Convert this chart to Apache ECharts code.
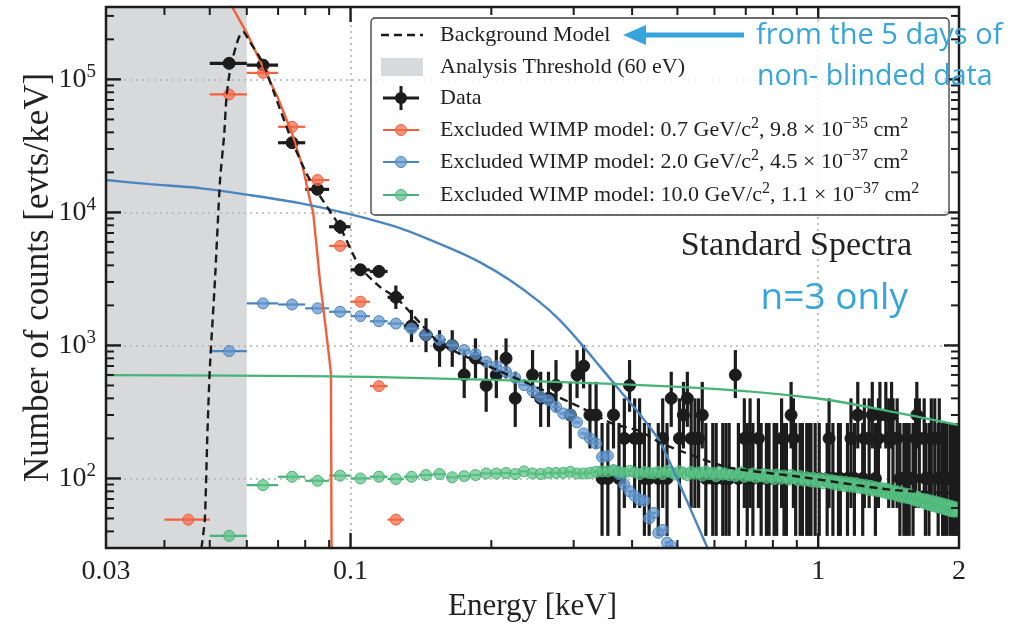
<!DOCTYPE html>
<html>
<head>
<meta charset="utf-8">
<script src="https://cdn.jsdelivr.net/npm/echarts@6.0.0/dist/echarts.min.js"></script>
<style>
html,body{margin:0;padding:0;background:#fff;}
#chart{width:1029px;height:627px;}
</style>
</head>
<body>
<div id="chart"></div>
<script>
// ---- binning (keV) ----
const binWidth = 0.01;
const thresholdKeV = [0.03, 0.06];

// ---- measured spectrum: bin centres (keV) and rates (evts/keV) ----
const dataE = [
  0.055, 0.065, 0.075, 0.085, 0.095, 0.105, 0.115, 0.125, 0.135, 0.145,
  0.155, 0.165, 0.175, 0.185, 0.195, 0.205, 0.215, 0.225, 0.245, 0.255,
  0.265, 0.275, 0.295, 0.305, 0.315, 0.325, 0.335, 0.345, 0.355, 0.365,
  0.375, 0.385, 0.395, 0.405, 0.415, 0.425, 0.435, 0.455, 0.465, 0.475,
  0.485, 0.505, 0.515, 0.525, 0.535, 0.545, 0.555, 0.565, 0.575, 0.595,
  0.605, 0.625, 0.635, 0.645, 0.665, 0.675, 0.695, 0.705, 0.715, 0.725,
  0.745, 0.755, 0.775, 0.785, 0.805, 0.815, 0.835, 0.845, 0.855, 0.875,
  0.885, 0.895, 0.915, 0.925, 0.945, 0.955, 0.965, 0.985, 1.005, 1.045,
  1.055, 1.075, 1.105, 1.115, 1.155, 1.175, 1.195, 1.215, 1.245, 1.255,
  1.285, 1.305, 1.325, 1.345, 1.355, 1.395, 1.415, 1.435, 1.445, 1.475,
  1.495, 1.525, 1.545, 1.565, 1.595, 1.615, 1.625, 1.645, 1.685, 1.695,
  1.725, 1.745, 1.775, 1.805, 1.815, 1.845, 1.865, 1.885, 1.915, 1.935,
  1.955, 1.975, 1.995
];
const dataRate = [
  132000, 128000, 33400, 14900, 7800, 3700, 3600, 2300, 1400, 1200,
  1000, 1000, 600, 800, 500, 600, 800, 400, 600, 400,
  400, 500, 300, 600, 700, 300, 300, 100, 100, 300,
  100, 200, 500, 200, 200, 100, 100, 100, 200, 100,
  400, 200, 300, 400, 200, 200, 200, 300, 100, 100,
  100, 100, 100, 100, 600, 100, 200, 100, 200, 100,
  200, 100, 100, 100, 100, 100, 200, 100, 100, 300,
  200, 100, 100, 100, 100, 100, 100, 100, 100, 100,
  200, 100, 100, 100, 100, 200, 100, 300, 100, 200,
  200, 300, 100, 200, 300, 300, 200, 300, 200, 200,
  100, 100, 100, 100, 100, 200, 300, 200, 200, 100,
  100, 200, 200, 100, 200, 100, 100, 100, 100, 100,
  100, 100, 100
];
// vertical error-bar extent [low, high] for each rate level
const dataErr = {
  132000: [126000, 138000], 128000: [122000, 134000], 33400: [31000, 36000],
  14900: [13500, 16400], 7800: [6900, 8800], 3700: [3350, 4100], 3600: [3250, 4000],
  2300: [1880, 2820], 1400: [1060, 1850], 1200: [890, 1600], 1000: [690, 1300],
  800: [565, 1130], 700: [475, 1010], 600: [402, 923], 500: [317, 776],
  400: [244, 634], 300: [168, 532], 200: [60, 400], 100: [37, 261]
};

// ---- excluded WIMP spectra, one value per 0.01 keV bin ----
const wimp07Start = 0.045;
const wimp07 = [49, 77000, 112000, 44000, 17500, 5600, 2130, 494, 49];

const wimp20Start = 0.055;
const wimp20 = [
  906, 2070, 2030, 1900, 1790, 1660, 1520, 1460, 1340, 1200,
  1100, 1000, 922, 861, 753, 698, 634, 571, 503, 456,
  411, 388, 345, 308, 300, 264, 218, 200, 183, 145,
  148, 115, 108, 90, 80, 74, 69, 68, 50, 55,
  39, 41, 33, 31
];

const wimp100Start = 0.055;
const wimp100 = [
  37, 89, 103, 96, 105, 100, 103, 99, 103, 106,
  108, 102, 104, 106, 109, 109, 110, 108, 113, 109,
  108, 110, 110, 110, 112, 109, 109, 110, 112, 113,
  113, 115, 112, 110, 114, 111, 108, 112, 110, 109,
  112, 108, 114, 111, 107, 113, 110, 106, 112, 109,
  111, 105, 113, 108, 110, 104, 112, 107, 109, 106,
  110, 104, 108, 111, 103, 107, 105, 109, 102, 106,
  104, 108, 101, 106, 103, 99, 107, 104, 100, 105,
  102, 98, 106, 101, 103, 97, 104, 100, 96, 102,
  99, 95, 101, 98, 94, 100, 97, 92, 99, 95,
  93, 97, 91, 96, 94, 89, 95, 92, 88, 94,
  91, 87, 93, 90, 86, 92, 89, 85, 90, 87,
  84, 89, 86, 82, 88, 85, 81, 86, 83, 80,
  85, 82, 79, 84, 80, 77, 83, 79, 76, 81,
  78, 75, 80, 76, 73, 78, 75, 72, 77, 74,
  71, 76, 72, 70, 74, 71, 68, 73, 69, 67,
  72, 68, 66, 70, 67, 64, 69, 66, 63, 68,
  65, 62, 67, 64, 61, 66, 63, 60, 65, 62,
  59, 64, 61, 58, 63, 60, 57, 62, 59, 56,
  61, 58, 55, 60, 57
];

// ---- continuous model curves [E keV, evts/keV] ----
const bkgModel = [
  [0.0480, 30], [0.0488, 49], [0.0494, 205], [0.0500, 652], [0.0513, 3100],
  [0.0526, 17500], [0.0537, 39000], [0.0543, 74000], [0.0554, 124000],
  [0.0571, 186000], [0.0580, 215000], [0.0589, 228000], [0.0609, 192000],
  [0.0650, 132000], [0.0695, 70000], [0.0748, 35000], [0.0805, 19600],
  [0.0846, 14500], [0.0949, 7800], [0.1046, 3900], [0.1155, 2760],
  [0.1254, 2270], [0.1359, 1690], [0.155, 1040], [0.177, 820], [0.1984, 690],
  [0.2222, 581], [0.2629, 448], [0.309, 345], [0.3636, 258], [0.415, 228],
  [0.46, 185], [0.636, 122], [0.912, 103], [1.44, 82], [2.0, 77]
];
const wimp07Curve = [
  [0.0540, 440000], [0.0557, 356000], [0.0600, 223000], [0.0650, 124000],
  [0.0700, 72000], [0.0749, 39500], [0.0790, 22000], [0.0819, 12400],
  [0.0832, 10000], [0.0860, 3100], [0.0894, 1000], [0.0908, 620], [0.0911, 25]
];
const wimp20Curve = [
  [0.03, 17500], [0.03725, 16300], [0.0476, 15230], [0.0609, 13490],
  [0.0779, 11750], [0.0996, 9710], [0.1275, 7620], [0.163, 5390],
  [0.1889, 4230], [0.2189, 3100], [0.2538, 2116], [0.2801, 1550],
  [0.309, 1059], [0.3409, 699], [0.3762, 461], [0.4152, 304],
  [0.458, 191], [0.5053, 90.6], [0.531, 60.8], [0.5578, 40.9],
  [0.580, 29.9], [0.600, 22]
];
const wimp100Curve = [
  [0.03, 598], [0.1155, 578], [0.505, 488], [0.99, 401], [1.49, 310], [2.0, 252]
];

// ---- axis ticks ----
const xMajorTicks = [0.1, 1];
const xMinorTicks = [0.04, 0.05, 0.06, 0.07, 0.08, 0.09, 0.2, 0.3, 0.4, 0.5, 0.6, 0.7, 0.8, 0.9];
const yMajorTicks = [100, 1000, 10000, 100000];
const yMinorTicks = [40, 50, 60, 70, 80, 90, 200, 300, 400, 500, 600, 700, 800, 900,
  2000, 3000, 4000, 5000, 6000, 7000, 8000, 9000, 20000, 30000, 40000, 50000,
  60000, 70000, 80000, 90000, 200000, 300000];

// ---- styling ----
const SERIF = "'Liberation Serif', 'DejaVu Serif', serif";
const SANS = "'Open Sans', 'Noto Sans', sans-serif";
const INK = '#1c1c1c';
const C07 = '#f1603a', C07pt = 'rgba(243,110,76,0.75)';
const C20 = '#4a85bf', C20pt = 'rgba(100,150,205,0.72)';
const C100 = '#47b477', C100pt = 'rgba(95,195,135,0.72)';
const NOTE = '#37a5dc';

function binned(start, vals) {
  return vals.map((v, i) => [Math.round((start + i * binWidth) * 1000) / 1000, v]);
}

function errorbarSeries(name, points, opt) {
  return {
    type: 'custom', name: name, z: opt.z, clip: true,
    data: points,
    encode: { x: 0, y: 1 },
    renderItem: function (params, api) {
      const e = api.value(0), y = api.value(1);
      const c = api.coord([e, y]);
      const l = api.coord([e - binWidth / 2, y]);
      const r = api.coord([e + binWidth / 2, y]);
      const kids = [{
        type: 'line', shape: { x1: l[0], y1: c[1], x2: r[0], y2: c[1] },
        style: { stroke: opt.bar, lineWidth: opt.hw }
      }];
      if (opt.vertical) {
        const top = api.coord([e, api.value(3)]);
        const bot = api.coord([e, api.value(2)]);
        kids.push({
          type: 'line', shape: { x1: c[0], y1: top[1], x2: c[0], y2: bot[1] },
          style: { stroke: opt.bar, lineWidth: opt.vw }
        });
      }
      kids.push({
        type: 'circle', shape: { cx: c[0], cy: c[1], r: opt.r },
        style: { fill: opt.fill, stroke: opt.edge, lineWidth: 1 }
      });
      return { type: 'group', children: kids };
    }
  };
}

function tickSeries(values, isX, major) {
  return {
    type: 'custom', z: 30, silent: true, clip: false,
    data: values.map(v => isX ? [v, 1000] : [0.1, v]),
    encode: { x: 0, y: 1 },
    renderItem: function (params, api) {
      const cs = params.coordSys;
      const p = api.coord([api.value(0), api.value(1)]);
      const len = major ? 15 : 8;
      const st = { stroke: INK, lineWidth: major ? 2.4 : 2 };
      if (isX) {
        const b = cs.y + cs.height;
        return { type: 'group', children: [
          { type: 'line', shape: { x1: p[0], y1: b, x2: p[0], y2: b - len }, style: st },
          { type: 'line', shape: { x1: p[0], y1: cs.y, x2: p[0], y2: cs.y + len }, style: st }
        ]};
      }
      const rx = cs.x + cs.width;
      return { type: 'group', children: [
        { type: 'line', shape: { x1: cs.x, y1: p[1], x2: cs.x + len, y2: p[1] }, style: st },
        { type: 'line', shape: { x1: rx, y1: p[1], x2: rx - len, y2: p[1] }, style: st }
      ]};
    }
  };
}

const blackPts = dataE.map((e, i) => {
  const v = dataRate[i];
  return [e, v, dataErr[v][0], dataErr[v][1]];
});

const series = [
  // analysis-threshold band
  {
    type: 'custom', z: -1, silent: true,
    data: [[thresholdKeV[0], 1000, thresholdKeV[1]]],
    encode: { x: 0, y: 1 },
    renderItem: function (params, api) {
      const cs = params.coordSys;
      const a = api.coord([api.value(0), 1000]);
      const b = api.coord([api.value(2), 1000]);
      return { type: 'rect', shape: { x: a[0], y: cs.y, width: b[0] - a[0], height: cs.height },
        style: { fill: '#d8d9db' } };
    }
  },
  errorbarSeries('Data', blackPts, { z: 3, bar: INK, fill: INK, edge: INK, hw: 3.2, vw: 3.2, r: 6, vertical: true }),
  errorbarSeries('0.7 GeV', binned(wimp07Start, wimp07), { z: 4, bar: C07, fill: C07pt, edge: C07, hw: 2.2, r: 5.5 }),
  errorbarSeries('2.0 GeV', binned(wimp20Start, wimp20), { z: 5, bar: C20, fill: C20pt, edge: C20, hw: 2.2, r: 5.5 }),
  errorbarSeries('10.0 GeV', binned(wimp100Start, wimp100), { z: 6, bar: C100, fill: C100pt, edge: C100, hw: 2.2, r: 5.5 }),
  { type: 'line', z: 8, data: wimp07Curve, showSymbol: false, clip: true, silent: true,
    lineStyle: { color: C07, width: 2.4 } },
  { type: 'line', z: 8, data: wimp20Curve, showSymbol: false, clip: true, silent: true, smooth: 0.25,
    lineStyle: { color: C20, width: 2.4 } },
  { type: 'line', z: 8, data: wimp100Curve, showSymbol: false, clip: true, silent: true, smooth: 0.3,
    lineStyle: { color: C100, width: 2.4 } },
  { type: 'line', z: 9, data: bkgModel, showSymbol: false, clip: true, silent: true, smooth: 0.2,
    lineStyle: { color: INK, width: 2.4, type: [8, 5] } },
  tickSeries(xMajorTicks, true, true),
  tickSeries(xMinorTicks, true, false),
  tickSeries(yMajorTicks, false, true),
  tickSeries(yMinorTicks, false, false)
];

// ---- legend and annotations ----
const LX = 371, LY = 18;
const legendRows = [35, 67, 98, 130, 162, 195];
const legendFont = 22;
const supRich = {
  n: { fontSize: legendFont, fontFamily: SERIF, fill: '#222', lineHeight: 28, verticalAlign: 'middle' },
  s: { fontSize: 16, fontFamily: SERIF, fill: '#222', lineHeight: 15, verticalAlign: 'top' }
};
function legendText(y, txt) {
  return { type: 'text', x: 440, y: y, z: 101,
    style: { text: txt, rich: supRich, fontFamily: SERIF, fontSize: legendFont, fill: '#222', verticalAlign: 'middle' } };
}
function legendPoint(y, bar, fill, edge) {
  return [
    { type: 'line', z: 101, shape: { x1: 383, y1: y, x2: 419, y2: y }, style: { stroke: bar, lineWidth: 2.2 } },
    { type: 'circle', z: 102, shape: { cx: 401, cy: y, r: 5.5 }, style: { fill: fill, stroke: edge, lineWidth: 1 } }
  ];
}

const graphic = [
  { type: 'rect', z: 100, shape: { x: LX, y: LY, width: 578, height: 197, r: 4 },
    style: { fill: 'rgba(255,255,255,0.82)', stroke: '#3a3a3a', lineWidth: 1.3 } },
  { type: 'line', z: 101, shape: { x1: 381, y1: legendRows[0], x2: 423, y2: legendRows[0] },
    style: { stroke: INK, lineWidth: 2.4, lineDash: [8, 5] } },
  legendText(legendRows[0], '{n|Background Model}'),
  { type: 'rect', z: 101, shape: { x: 381, y: legendRows[1] - 9, width: 42, height: 18 }, style: { fill: '#d8d9db' } },
  legendText(legendRows[1], '{n|Analysis Threshold (60 eV)}'),
  { type: 'line', z: 101, shape: { x1: 383, y1: legendRows[2], x2: 419, y2: legendRows[2] }, style: { stroke: INK, lineWidth: 3 } },
  { type: 'line', z: 101, shape: { x1: 401, y1: legendRows[2] - 12, x2: 401, y2: legendRows[2] + 12 }, style: { stroke: INK, lineWidth: 3 } },
  { type: 'circle', z: 102, shape: { cx: 401, cy: legendRows[2], r: 6 }, style: { fill: INK } },
  legendText(legendRows[2], '{n|Data}'),
  ...legendPoint(legendRows[3], C07, C07pt, C07),
  legendText(legendRows[3], '{n|Excluded WIMP model: 0.7 GeV/c}{s|2}{n|, 9.8 × 10}{s|−35}{n| cm}{s|2}'),
  ...legendPoint(legendRows[4], C20, C20pt, C20),
  legendText(legendRows[4], '{n|Excluded WIMP model: 2.0 GeV/c}{s|2}{n|, 4.5 × 10}{s|−37}{n| cm}{s|2}'),
  ...legendPoint(legendRows[5], C100, C100pt, C100),
  legendText(legendRows[5], '{n|Excluded WIMP model: 10.0 GeV/c}{s|2}{n|, 1.1 × 10}{s|−37}{n| cm}{s|2}'),

  // note arrow and remarks
  { type: 'line', z: 110, shape: { x1: 744, y1: 35, x2: 640, y2: 35 }, style: { stroke: NOTE, lineWidth: 5 } },
  { type: 'polygon', z: 110, shape: { points: [[623, 35], [646, 25], [646, 45]] }, style: { fill: NOTE } },
  { type: 'text', z: 110, x: 756, y: 36, style: { text: 'from the 5 days of', fontFamily: SANS,
    fontSize: 29, fill: NOTE, verticalAlign: 'middle' } },
  { type: 'text', z: 110, x: 757, y: 77, style: { text: 'non- blinded data', fontFamily: SANS,
    fontSize: 28.5, fill: NOTE, verticalAlign: 'middle' } },
  { type: 'text', z: 110, x: 912, y: 246, style: { text: 'Standard Spectra', fontFamily: SERIF,
    fontSize: 34, fill: '#222', align: 'right', verticalAlign: 'middle' } },
  { type: 'text', z: 110, x: 908, y: 298, style: { text: 'n=3 only', fontFamily: SANS,
    fontSize: 37, fill: NOTE, align: 'right', verticalAlign: 'middle' } }
];

const option = {
  animation: false,
  backgroundColor: '#fff',
  grid: { left: 106, right: 70, top: 7, bottom: 79, show: true, borderColor: INK, borderWidth: 2.5, z: 20 },
  xAxis: {
    type: 'log', logBase: 10, min: 0.03, max: 2,
    axisLine: { show: false }, axisTick: { show: false },
    splitLine: { show: true, lineStyle: { color: '#b3b3b3', width: 1.6, type: [2, 4] } },
    axisLabel: { fontFamily: SERIF, fontSize: 28, color: '#222', margin: 10, showMinLabel: true, showMaxLabel: true },
    name: 'Energy [keV]', nameLocation: 'middle', nameGap: 40,
    nameTextStyle: { fontFamily: SERIF, fontSize: 31, color: '#222' }
  },
  yAxis: {
    type: 'log', logBase: 10, min: 30, max: 350000,
    axisLine: { show: false }, axisTick: { show: false },
    splitLine: { show: true, lineStyle: { color: '#b3b3b3', width: 1.6, type: [2, 4] } },
    axisLabel: {
      margin: 10,
      formatter: function (v) {
        const p = Math.log10(v), k = Math.round(p);
        if (Math.abs(p - k) > 1e-6) return '';
        return '{b|10}{s|' + k + '}';
      },
      rich: {
        b: { fontFamily: SERIF, fontSize: 28, color: '#222', lineHeight: 34, verticalAlign: 'middle' },
        s: { fontFamily: SERIF, fontSize: 19, color: '#222', lineHeight: 20, verticalAlign: 'top' }
      }
    },
    name: 'Number of counts [evts/keV]', nameLocation: 'middle', nameGap: 50, nameMoveOverlap: false,
    nameTextStyle: { fontFamily: SERIF, fontSize: 35, color: '#222' }
  },
  series: series,
  graphic: graphic
};

const chart = echarts.init(document.getElementById('chart'));
chart.setOption(option);
</script>
</body>
</html>
